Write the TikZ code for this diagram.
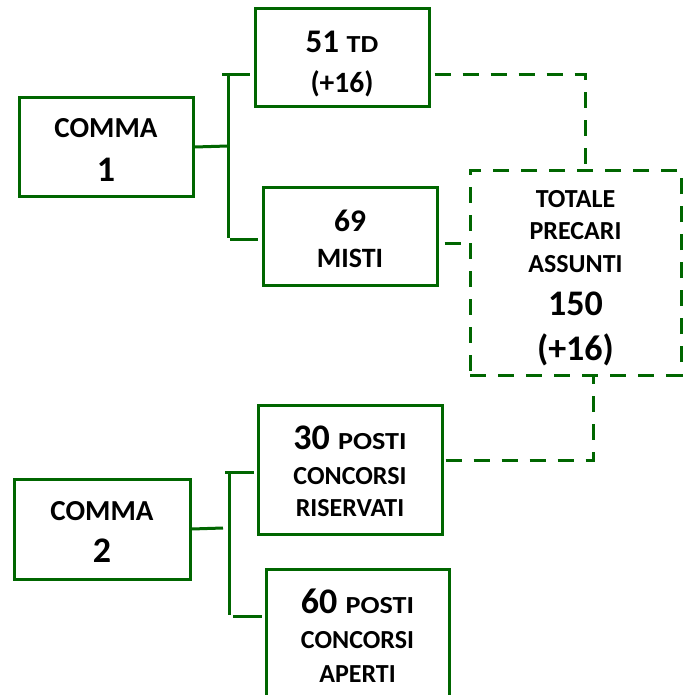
\documentclass[tikz,border=0pt]{standalone}
\usepackage{fontspec}
\usepackage{graphicx}
\setmainfont{Carlito}
\definecolor{dg}{RGB}{0,102,0}
\newcommand{\topstrut}[1]{\rule{0pt}{#1pt}}
\newcommand{\botstrut}[1]{\rule[-#1pt]{0pt}{#1pt}}
\newcommand{\smallwide}[1]{\scalebox{1.15}[1]{\fontsize{24.5}{24.5}\selectfont #1}}
\begin{document}
\begin{tikzpicture}[x=1pt,y=-1pt,
  box/.style={draw=dg, line width=3pt, fill=white, align=center, inner sep=0pt},
  conn/.style={draw=dg, line width=3pt},
  dconn/.style={draw=dg, line width=3pt, dash pattern=on 16pt off 12pt},
  dbox/.style={box, dash pattern=on 16pt off 12pt}]
\clip (0,0) rectangle (690,695);
\fill[white] (0,0) rectangle (690,695);
% boxes
\node[box, minimum width=174pt, minimum height=98pt, font={\bfseries\fontsize{29}{44}\selectfont}] (c1) at (106,147)
  {\topstrut{26}COMMA\\\fontsize{36}{44}\selectfont 1};
\node[box, minimum width=174pt, minimum height=98pt, font={\bfseries\fontsize{33}{40}\selectfont}] (td) at (342,58)
  {\topstrut{38}51 \smallwide{TD}\\\fontsize{29.5}{40}\selectfont (+16)\botstrut{8}};
\node[box, minimum width=174pt, minimum height=98pt, font={\bfseries\fontsize{31.5}{36}\selectfont}] (misti) at (350,236)
  {\topstrut{28}69\\\fontsize{28}{36}\selectfont MISTI};
\node[dbox, minimum width=211pt, minimum height=205pt, font={\bfseries\fontsize{26}{32.5}\selectfont}] (tot) at (575.5,272.5)
  {\topstrut{30}TOTALE\\PRECARI\\ASSUNTI\\[10.5pt]\fontsize{36}{40}\selectfont 150\\[12.5pt]\fontsize{36}{40}\selectfont (+16)\botstrut{8}};
\node[box, minimum width=176pt, minimum height=100pt, font={\bfseries\fontsize{29}{42}\selectfont}] (c2) at (102,529)
  {\topstrut{24}COMMA\\\fontsize{36}{42}\selectfont 2};
\node[box, minimum width=184pt, minimum height=129pt, font={\bfseries\fontsize{26}{32}\selectfont}] (ris) at (350,469.5)
  {\topstrut{28}\fontsize{36}{32}\selectfont 30 \smallwide{POSTI}\\[3pt]CONCORSI\\RISERVATI};
\node[box, minimum width=183pt, minimum height=129pt, font={\bfseries\fontsize{26}{34}\selectfont}] (ape) at (357.5,633.5)
  {\topstrut{28}\fontsize{36}{34}\selectfont 60 \smallwide{POSTI}\\[1pt]CONCORSI\\APERTI};
% bracket 1
\coordinate (j1) at (228,146);
\coordinate (j1t) at (228,73);
\coordinate (j1b) at (228,238);
\draw[conn] (c1.east) -- (j1);
\draw[conn] (j1t) -- (j1b);
\draw[conn, shorten >=4pt] ([xshift=-6pt]j1t |- 0,75) -- (td.west |- 0,75);
\draw[conn, shorten >=4pt] ([xshift=2pt]j1b |- 0,239) -- (misti.west |- 0,239);
% bracket 2
\coordinate (j2) at (229,528);
\coordinate (j2t) at (229,471);
\coordinate (j2b) at (229,615);
\draw[conn] (c2.east) -- ([xshift=-6pt]j2);
\draw[conn] (j2t) -- (j2b);
\draw[conn, shorten >=3pt] ([xshift=-4pt]j2t |- 0,472) -- (ris.west |- 0,472);
\draw[conn, shorten >=3pt] ([xshift=4pt]j2b |- 0,616) -- (ape.west |- 0,616);
% dashed connectors
\coordinate (k1) at (585,75);
\coordinate (k3) at (593,460);
\draw[dconn, shorten <=4pt] (td.east |- k1) -- (k1) -- (k1 |- tot.north);
\draw[dconn, shorten <=6pt] (misti.east |- 0,243) -- (tot.west |- 0,243);
\draw[dconn, shorten <=2pt] (ris.east |- k3) -- (k3) -- (k3 |- tot.south);
\end{tikzpicture}
\end{document}
